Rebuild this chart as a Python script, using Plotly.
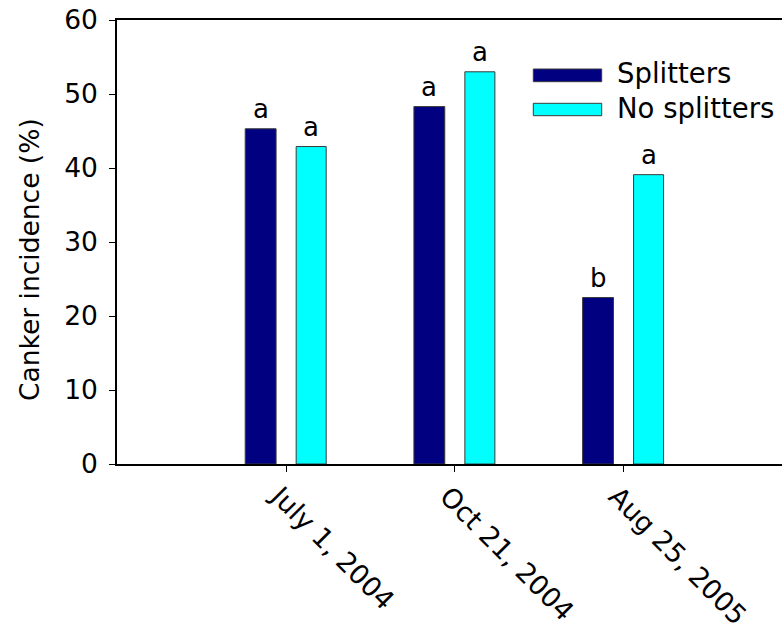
import plotly.graph_objects as go

# ---- data ----
dates = ["July 1, 2004", "Oct 21, 2004", "Aug 25, 2005"]
splitters = [45.3, 48.3, 22.5]
no_splitters = [42.9, 53.0, 39.1]
letters_splitters = ["a", "a", "b"]
letters_no_splitters = ["a", "a", "a"]
series_names = ["Splitters", "No splitters"]
y_ticks = [0, 10, 20, 30, 40, 50, 60]
y_title = "Canker incidence (%)"

# ---- style ----
colors = ["#000080", "#00FFFF"]
FONT = "DejaVu Sans, Liberation Sans, Arial, sans-serif"
W, H = 782, 634
L, R, T, B = 117, 0, 20, 170
pw, ph = W - L - R, H - T - B
PX_PER_CAT = 168.7


def px_x(p):
    return (p - L) / pw


def px_y(p):
    return (H - B - p) / ph


idx = list(range(len(dates)))
offsets = [-0.242, 0.06]
widths = [0.183, 0.178]
series = [splitters, no_splitters]
letters = [letters_splitters, letters_no_splitters]

fig = go.Figure()
for s in range(2):
    fig.add_trace(go.Bar(
        x=idx, y=series[s], name=series_names[s],
        width=widths[s], offset=offsets[s],
        marker=dict(color=colors[s], line=dict(color="#3a3a3a", width=1)),
        showlegend=False, hoverinfo="skip",
    ))

annotations = []
for s in range(2):
    for i, v in enumerate(series[s]):
        annotations.append(dict(
            x=idx[i] + offsets[s] + widths[s] / 2, y=v, xref="x", yref="y",
            text=letters[s][i], showarrow=False, yanchor="bottom", yshift=3,
            font=dict(family=FONT, size=26, color="black"),
        ))

# y-axis title
annotations.append(dict(
    x=px_x(29), y=px_y(260), xref="paper", yref="paper", text=y_title,
    textangle=-90, showarrow=False, xanchor="center", yanchor="middle",
    font=dict(family=FONT, size=26.5, color="black"),
))

# custom legend
shapes = []
sw_y = [(69, 81.7), (103.3, 115.7)]
for s in range(2):
    shapes.append(dict(
        type="rect", xref="paper", yref="paper",
        x0=px_x(533.3), x1=px_x(601.7), y0=px_y(sw_y[s][1]), y1=px_y(sw_y[s][0]),
        fillcolor=colors[s], line=dict(color="#3a3a3a", width=1),
    ))
    annotations.append(dict(
        x=px_x(615), y=px_y((sw_y[s][0] + sw_y[s][1]) / 2 - 2), xref="paper", yref="paper",
        text=series_names[s], showarrow=False, xanchor="left", yanchor="middle",
        font=dict(family=FONT, size=27.5, color="black"),
    ))

x_start = -1.002
x_end = x_start + pw / PX_PER_CAT

fig.update_layout(
    template="none",
    width=W, height=H,
    margin=dict(l=L, r=R, t=T, b=B, pad=0),
    paper_bgcolor="white", plot_bgcolor="white",
    barmode="overlay",
    annotations=annotations, shapes=shapes,
    font=dict(family=FONT, size=25, color="black"),
    xaxis=dict(
        range=[x_start, x_end], tickmode="array", tickvals=idx, ticktext=dates,
        tickangle=45, ticks="outside", ticklen=6, tickwidth=1.2, tickcolor="black",
        ticklabelshift=-7, ticklabelstandoff=-2, automargin=False,
        showline=True, linecolor="black", linewidth=1.5, mirror=True,
        showgrid=False, zeroline=False,
        tickfont=dict(family=FONT, size=27, color="black"),
    ),
    yaxis=dict(
        range=[0, 60], tickmode="array", tickvals=y_ticks,
        ticks="outside", ticklen=6, tickwidth=1.2, tickcolor="black",
        ticklabelstandoff=6, ticklabeloverflow="allow", automargin=False,
        showline=True, linecolor="black", linewidth=1.5, mirror=False,
        showgrid=False, zeroline=False,
        tickfont=dict(family=FONT, size=26.5, color="black"),
    ),
)

fig.write_html(
    "out.html",
    config={"displayModeBar": False},
    post_script="document.body.style.margin='0';document.body.style.padding='0';",
)
